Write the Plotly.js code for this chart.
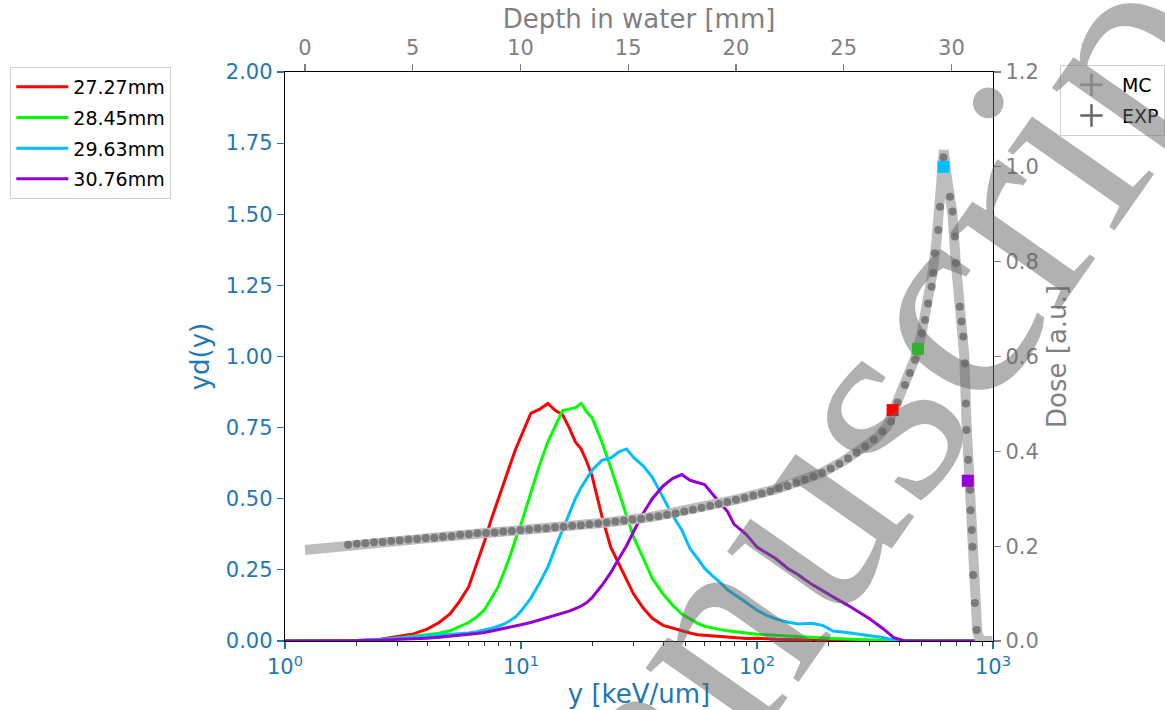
<!DOCTYPE html>
<html>
<head>
<meta charset="utf-8">
<script src="https://cdn.plot.ly/plotly-3.0.1.min.js"></script>
<style>html,body{margin:0;padding:0;background:#fff;}#chart{width:1165px;height:710px;}</style>
</head>
<body>
<div id="chart"></div>
<script>
// Lineal energy grid (keV/um)
const lineal = [1, 1.5, 2, 2.5, 3, 3.5, 4, 4.5, 5, 5.5, 6, 6.5, 7, 7.5, 8, 8.5, 9, 9.5, 10, 11, 12, 13, 14, 15, 16, 17, 18, 19, 20, 22, 24, 26, 28, 30, 33, 36, 40, 44, 48, 52, 56, 60, 65, 70, 75, 80, 90, 100, 110, 120, 135, 150, 170, 190, 210, 240, 270, 300, 340, 380, 420, 480, 550, 650, 750, 860];

const yd_2727 = [0, 0, 0.002, 0.005, 0.015, 0.025, 0.042, 0.065, 0.095, 0.14, 0.19, 0.27, 0.35, 0.43, 0.50, 0.565, 0.62, 0.675, 0.72, 0.80, 0.815, 0.835, 0.81, 0.795, 0.75, 0.70, 0.675, 0.63, 0.58, 0.44, 0.33, 0.27, 0.22, 0.165, 0.115, 0.08, 0.055, 0.045, 0.035, 0.028, 0.022, 0.02, 0.017, 0.014, 0.013, 0.011, 0.009, 0.01, 0.007, 0.006, 0.005, 0.004, 0.003, 0.004, 0.002, 0.002, 0.001, 0.001, 0.002, 0.001, 0.001, 0.002, 0, 0, 0, 0];
const yd_2845 = [0, 0, 0.001, 0.003, 0.01, 0.015, 0.02, 0.027, 0.036, 0.05, 0.065, 0.085, 0.11, 0.15, 0.19, 0.245, 0.30, 0.36, 0.41, 0.52, 0.62, 0.70, 0.755, 0.81, 0.815, 0.82, 0.835, 0.805, 0.785, 0.70, 0.61, 0.52, 0.44, 0.365, 0.29, 0.22, 0.165, 0.125, 0.095, 0.078, 0.062, 0.052, 0.045, 0.04, 0.036, 0.033, 0.028, 0.024, 0.022, 0.02, 0.017, 0.015, 0.013, 0.011, 0.009, 0.007, 0.005, 0.004, 0.002, 0.001, 0.001, 0.001, 0, 0, 0, 0];
const yd_2963 = [0, 0.001, 0.002, 0.005, 0.01, 0.015, 0.018, 0.02, 0.023, 0.026, 0.028, 0.033, 0.038, 0.045, 0.052, 0.06, 0.072, 0.085, 0.105, 0.15, 0.205, 0.26, 0.33, 0.39, 0.445, 0.50, 0.54, 0.57, 0.60, 0.635, 0.643, 0.665, 0.675, 0.645, 0.615, 0.575, 0.505, 0.44, 0.39, 0.325, 0.29, 0.255, 0.228, 0.205, 0.18, 0.165, 0.135, 0.108, 0.09, 0.078, 0.066, 0.06, 0.062, 0.055, 0.035, 0.03, 0.024, 0.02, 0.012, 0.004, 0.001, 0, 0, 0, 0, 0];
const yd_3076 = [0, 0, 0.001, 0.003, 0.005, 0.007, 0.01, 0.013, 0.016, 0.019, 0.022, 0.026, 0.03, 0.035, 0.039, 0.043, 0.048, 0.052, 0.057, 0.065, 0.074, 0.082, 0.09, 0.097, 0.105, 0.114, 0.123, 0.135, 0.152, 0.195, 0.24, 0.29, 0.335, 0.385, 0.45, 0.50, 0.545, 0.572, 0.585, 0.565, 0.558, 0.55, 0.515, 0.485, 0.455, 0.41, 0.375, 0.33, 0.31, 0.29, 0.255, 0.232, 0.20, 0.175, 0.155, 0.128, 0.10, 0.078, 0.045, 0.012, 0.001, 0, 0, 0, 0, 0];

const seriesNames = ['27.27mm', '28.45mm', '29.63mm', '30.76mm'];
const seriesColors = ['#ff0000', '#00ff00', '#00bfff', '#9400d3'];

// Depth-dose curves
const mcDepth = [0.0, 1.0, 2.0, 4.0, 6.0, 8.0, 10.0, 12.0, 14.0, 16.0, 18.0, 20.0, 22.0, 23.0, 24.0, 25.0, 26.0, 26.5, 27.0, 27.5, 28.0, 28.3, 28.6, 28.9, 29.1, 29.3, 29.45, 29.55, 29.65, 29.75, 29.9, 30.05, 30.2, 30.35, 30.5, 30.6, 30.7, 30.8, 30.9, 31.0, 31.1, 31.2, 31.3, 31.5, 31.9];
const mcDose = [0.192, 0.197, 0.202, 0.210, 0.218, 0.226, 0.233, 0.241, 0.250, 0.261, 0.277, 0.298, 0.322, 0.337, 0.355, 0.380, 0.410, 0.427, 0.452, 0.503, 0.558, 0.595, 0.645, 0.71, 0.77, 0.84, 0.91, 0.97, 1.035, 0.99, 0.94, 0.90, 0.80, 0.715, 0.65, 0.60, 0.46, 0.35, 0.27, 0.15, 0.07, 0.02, 0.005, 0.0, 0.0];

const expDepth = [2.0, 2.4, 2.8, 3.2, 3.6, 4.0, 4.4, 4.8, 5.2, 5.6, 6.0, 6.4, 6.8, 7.2, 7.6, 8.0, 8.4, 8.8, 9.2, 9.6, 10.0, 10.4, 10.8, 11.2, 11.6, 12.0, 12.4, 12.8, 13.2, 13.6, 14.0, 14.4, 14.8, 15.2, 15.6, 16.0, 16.4, 16.8, 17.2, 17.6, 18.0, 18.4, 18.8, 19.2, 19.6, 20.0, 20.4, 20.8, 21.2, 21.6, 22.0, 22.4, 22.8, 23.2, 23.6, 24.0, 24.4, 24.8, 25.2, 25.6, 26.0, 26.4, 26.8, 27.2, 27.5, 27.84, 28.07, 28.31, 28.62, 28.77, 28.92, 29.08, 29.16, 29.23, 29.39, 29.47, 29.63, 29.93, 30.05, 30.16, 30.21, 30.39, 30.47, 30.55, 30.63, 30.67, 30.70, 30.78, 30.86, 30.89, 30.94, 30.98, 31.01, 31.09, 31.17];
const expDose = [0.203, 0.205, 0.206, 0.208, 0.209, 0.211, 0.212, 0.214, 0.215, 0.217, 0.218, 0.220, 0.221, 0.224, 0.225, 0.227, 0.228, 0.229, 0.231, 0.232, 0.234, 0.235, 0.237, 0.238, 0.240, 0.241, 0.243, 0.244, 0.246, 0.248, 0.250, 0.252, 0.254, 0.256, 0.258, 0.261, 0.263, 0.266, 0.269, 0.273, 0.277, 0.281, 0.285, 0.289, 0.293, 0.298, 0.302, 0.307, 0.311, 0.316, 0.322, 0.327, 0.333, 0.340, 0.347, 0.355, 0.364, 0.374, 0.385, 0.397, 0.410, 0.425, 0.442, 0.463, 0.503, 0.540, 0.565, 0.593, 0.649, 0.677, 0.712, 0.747, 0.776, 0.818, 0.867, 0.916, 1.02, 0.937, 0.906, 0.853, 0.797, 0.705, 0.674, 0.642, 0.586, 0.501, 0.445, 0.382, 0.319, 0.276, 0.234, 0.199, 0.139, 0.080, 0.023];

// Depth positions of the spectra (markers on the depth-dose curve)
const markDepth = [27.27, 28.45, 29.63, 30.76];
const markDose = [0.487, 0.616, 1.0, 0.338];

const logTicks = [1, 10, 100, 1000];
const logTickText = ['10<sup>0</sup>', '10<sup>1</sup>', '10<sup>2</sup>', '10<sup>3</sup>'];
const minorTicks = [2,3,4,5,6,7,8,9,20,30,40,50,60,70,80,90,200,300,400,500,600,700,800,900];

const blue = '#1f77b4';
const gray = '#808080';
const FONT = 'DejaVu Sans, Verdana, sans-serif';

const spectra = [yd_2727, yd_2845, yd_2963, yd_3076];
const traces = spectra.map((vals, i) => ({
  type: 'scatter', mode: 'lines', x: lineal, y: vals,
  name: seriesNames[i], legendgroup: 'g' + i, legend: 'legend',
  line: {color: seriesColors[i], width: 3},
  xaxis: 'x', yaxis: 'y', hoverinfo: 'skip'
}));

traces.push({
  type: 'scatter', mode: 'lines', x: mcDepth, y: mcDose,
  xaxis: 'x2', yaxis: 'y2', showlegend: false,
  line: {color: '#bdbdbd', width: 10}
});
traces.push({
  type: 'scatter', mode: 'markers', x: expDepth, y: expDose,
  xaxis: 'x2', yaxis: 'y2', showlegend: false,
  marker: {color: '#6e6e6e', size: 8, opacity: 0.85}
});
traces.push({
  type: 'scatter', mode: 'markers', x: markDepth, y: markDose,
  xaxis: 'x2', yaxis: 'y2', showlegend: false,
  marker: {color: seriesColors, size: 12, symbol: 'square'}
});
// legend-only entries for MC / EXP
traces.push({
  type: 'scatter', mode: 'markers', x: [null], y: [null], name: 'MC',
  xaxis: 'x2', yaxis: 'y2', legend: 'legend2', legendgroup: 'mc',
  marker: {symbol: 'cross-thin', size: 20, color: '#aaaaaa', line: {color: '#aaaaaa', width: 2.5}}
});
traces.push({
  type: 'scatter', mode: 'markers', x: [null], y: [null], name: 'EXP',
  xaxis: 'x2', yaxis: 'y2', legend: 'legend2', legendgroup: 'exp',
  marker: {symbol: 'cross-thin', size: 20, color: '#666666', line: {color: '#666666', width: 2.5}}
});

const layout = {
  width: 1165, height: 710,
  margin: {l: 285, r: 172, t: 72, b: 69, autoexpand: false},
  paper_bgcolor: '#ffffff', plot_bgcolor: '#ffffff',
  font: {family: FONT, size: 20, color: '#000'},
  showlegend: true,
  xaxis: {
    type: 'log', range: [0, 3],
    tickvals: logTicks, ticktext: logTickText,
    tickfont: {color: blue, size: 21}, ticks: 'outside', ticklen: 7, tickwidth: 1.2, tickcolor: blue,
    minor: {tickvals: minorTicks, ticks: 'outside', ticklen: 4, tickwidth: 1, tickcolor: '#333'},
    showline: true, linecolor: '#000', linewidth: 1.2, showgrid: false, zeroline: false,
    title: {text: 'y [keV/um]', font: {color: blue, size: 26}, standoff: 6}
  },
  yaxis: {
    range: [0, 2], dtick: 0.25, tickformat: '.2f',
    tickfont: {color: blue, size: 21}, ticks: 'outside', ticklen: 7, tickwidth: 1.2, tickcolor: blue,
    showline: true, linecolor: '#000', linewidth: 1.2, showgrid: false, zeroline: false,
    title: {text: 'yd(y)', font: {color: blue, size: 26}, standoff: 8}
  },
  xaxis2: {
    overlaying: 'x', side: 'top', anchor: 'y2',
    range: [-0.93, 31.93], dtick: 5, tick0: 0,
    tickfont: {color: gray, size: 21}, ticks: 'outside', ticklen: 7, tickwidth: 1.2, tickcolor: gray,
    showline: true, linecolor: '#000', linewidth: 1.2, showgrid: false, zeroline: false,
    title: {text: 'Depth in water [mm]', font: {color: gray, size: 26}, standoff: 0}
  },
  yaxis2: {
    overlaying: 'y', side: 'right', anchor: 'x2',
    range: [0, 1.2], dtick: 0.2, tickformat: '.1f',
    tickfont: {color: gray, size: 21}, ticks: 'outside', ticklen: 7, tickwidth: 1.2, tickcolor: gray,
    showline: true, linecolor: '#000', linewidth: 1.2, showgrid: false, zeroline: false,
    title: {text: 'Dose [a.u.]', font: {color: gray, size: 26}, standoff: 10}
  },
  legend: {
    x: -0.388, y: 1.009, xanchor: 'left', yanchor: 'top', itemwidth: 52,
    bgcolor: '#ffffff', bordercolor: '#d0d0d0', borderwidth: 1,
    font: {size: 19, color: '#000'}, tracegroupgap: 3
  },
  legend2: {
    x: 1.0946, y: 1.0123, xanchor: 'left', yanchor: 'top', itemwidth: 51,
    bgcolor: '#ffffff', bordercolor: '#d0d0d0', borderwidth: 1,
    font: {size: 19, color: '#000'}, tracegroupgap: 3
  },
  annotations: [{
    text: 'Manuscript', xref: 'paper', yref: 'paper', x: 0.767, y: 0.302,
    xanchor: 'center', yanchor: 'middle', textangle: -55, showarrow: false,
    font: {family: 'Liberation Serif, Times New Roman, serif', size: 290, color: 'rgba(100,100,100,0.5)'}
  }]
};

Plotly.newPlot('chart', traces, layout, {displayModeBar: false, staticPlot: true});
</script>
</body>
</html>
